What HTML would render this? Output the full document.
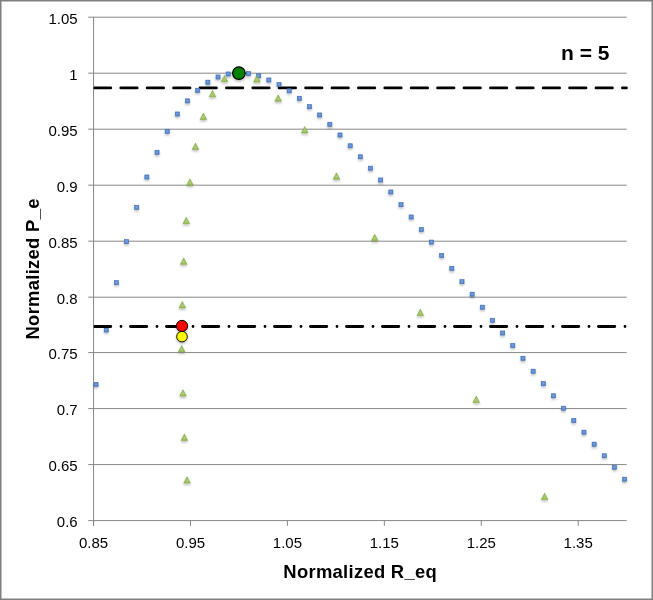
<!DOCTYPE html>
<html><head><meta charset="utf-8"><style>
html,body{margin:0;padding:0;background:#fff;}
svg{display:block;will-change:transform;}
text{font-family:"Liberation Sans",sans-serif;fill:#000;}
</style></head><body>
<svg width="653" height="600" viewBox="0 0 653 600">
<defs>
<filter id="sh" x="-100%" y="-100%" width="300%" height="300%">
<feDropShadow dx="0" dy="1.6" stdDeviation="0.9" flood-color="#000" flood-opacity="0.28"/>
</filter>
<radialGradient id="gb" cx="50%" cy="45%" r="60%"><stop offset="0" stop-color="#7fa6e2"/><stop offset="1" stop-color="#4b7cc4"/></radialGradient>
<radialGradient id="gg" cx="50%" cy="60%" r="60%"><stop offset="0" stop-color="#b0d07a"/><stop offset="1" stop-color="#8fb24c"/></radialGradient>
<clipPath id="pa"><rect x="93.57" y="0" width="534.115" height="521.6"/></clipPath>
</defs>
<rect x="0" y="0" width="653" height="600" fill="#fff"/>
<g stroke="#878787" stroke-width="1" shape-rendering="auto"><line x1="88.2" y1="520.60" x2="626.68" y2="520.60"/><line x1="88.2" y1="464.60" x2="626.68" y2="464.60"/><line x1="88.2" y1="408.60" x2="626.68" y2="408.60"/><line x1="88.2" y1="352.60" x2="626.68" y2="352.60"/><line x1="88.2" y1="297.20" x2="626.68" y2="297.20"/><line x1="88.2" y1="241.20" x2="626.68" y2="241.20"/><line x1="88.2" y1="185.20" x2="626.68" y2="185.20"/><line x1="88.2" y1="129.20" x2="626.68" y2="129.20"/><line x1="88.2" y1="73.20" x2="626.68" y2="73.20"/><line x1="88.2" y1="17.20" x2="626.68" y2="17.20"/><line x1="93.57" y1="520.60" x2="93.57" y2="525.8"/><line x1="190.50" y1="520.60" x2="190.50" y2="525.8"/><line x1="287.43" y1="520.60" x2="287.43" y2="525.8"/><line x1="384.36" y1="520.60" x2="384.36" y2="525.8"/><line x1="481.29" y1="520.60" x2="481.29" y2="525.8"/><line x1="578.22" y1="520.60" x2="578.22" y2="525.8"/><line x1="93.57" y1="17.14" x2="93.57" y2="525.8"/></g>
<text x="77.7" y="527.20" text-anchor="end" font-size="15">0.6</text><text x="77.7" y="471.20" text-anchor="end" font-size="15">0.65</text><text x="77.7" y="415.20" text-anchor="end" font-size="15">0.7</text><text x="77.7" y="359.20" text-anchor="end" font-size="15">0.75</text><text x="77.7" y="303.80" text-anchor="end" font-size="15">0.8</text><text x="77.7" y="247.80" text-anchor="end" font-size="15">0.85</text><text x="77.7" y="191.80" text-anchor="end" font-size="15">0.9</text><text x="77.7" y="135.80" text-anchor="end" font-size="15">0.95</text><text x="77.7" y="79.80" text-anchor="end" font-size="15">1</text><text x="77.7" y="23.80" text-anchor="end" font-size="15">1.05</text><text x="93.57" y="548.4" text-anchor="middle" font-size="15">0.85</text><text x="190.50" y="548.4" text-anchor="middle" font-size="15">0.95</text><text x="287.43" y="548.4" text-anchor="middle" font-size="15">1.05</text><text x="384.36" y="548.4" text-anchor="middle" font-size="15">1.15</text><text x="481.29" y="548.4" text-anchor="middle" font-size="15">1.25</text><text x="578.22" y="548.4" text-anchor="middle" font-size="15">1.35</text>
<g clip-path="url(#pa)" stroke="#000" stroke-width="2.8" stroke-linecap="round" fill="none"><line x1="94.4" y1="87.95" x2="626.68" y2="87.95" stroke-dasharray="16.4 10.0"/></g>
<g filter="url(#sh)" fill="url(#gb)" stroke="#3f6fb5" stroke-width="0.6"><rect x="94.00" y="382.35" width="4.1" height="4.1"/><rect x="104.17" y="327.95" width="4.1" height="4.1"/><rect x="114.33" y="280.65" width="4.1" height="4.1"/><rect x="124.49" y="239.65" width="4.1" height="4.1"/><rect x="134.66" y="205.25" width="4.1" height="4.1"/><rect x="144.82" y="174.95" width="4.1" height="4.1"/><rect x="154.99" y="150.25" width="4.1" height="4.1"/><rect x="165.15" y="129.25" width="4.1" height="4.1"/><rect x="175.32" y="111.95" width="4.1" height="4.1"/><rect x="185.48" y="98.85" width="4.1" height="4.1"/><rect x="195.65" y="88.25" width="4.1" height="4.1"/><rect x="205.81" y="80.15" width="4.1" height="4.1"/><rect x="215.98" y="74.95" width="4.1" height="4.1"/><rect x="226.14" y="71.95" width="4.1" height="4.1"/><rect x="236.31" y="71.05" width="4.1" height="4.1"/><rect x="246.47" y="71.55" width="4.1" height="4.1"/><rect x="256.64" y="73.75" width="4.1" height="4.1"/><rect x="266.80" y="77.95" width="4.1" height="4.1"/><rect x="276.97" y="82.55" width="4.1" height="4.1"/><rect x="287.13" y="88.75" width="4.1" height="4.1"/><rect x="297.30" y="96.25" width="4.1" height="4.1"/><rect x="307.46" y="104.65" width="4.1" height="4.1"/><rect x="317.63" y="112.95" width="4.1" height="4.1"/><rect x="327.79" y="122.25" width="4.1" height="4.1"/><rect x="337.96" y="132.95" width="4.1" height="4.1"/><rect x="348.12" y="143.75" width="4.1" height="4.1"/><rect x="358.29" y="154.75" width="4.1" height="4.1"/><rect x="368.45" y="166.15" width="4.1" height="4.1"/><rect x="378.62" y="177.95" width="4.1" height="4.1"/><rect x="388.78" y="189.95" width="4.1" height="4.1"/><rect x="398.95" y="202.65" width="4.1" height="4.1"/><rect x="409.11" y="214.95" width="4.1" height="4.1"/><rect x="419.28" y="227.45" width="4.1" height="4.1"/><rect x="429.44" y="240.05" width="4.1" height="4.1"/><rect x="439.61" y="253.45" width="4.1" height="4.1"/><rect x="449.77" y="266.25" width="4.1" height="4.1"/><rect x="459.94" y="279.65" width="4.1" height="4.1"/><rect x="470.10" y="292.15" width="4.1" height="4.1"/><rect x="480.27" y="305.15" width="4.1" height="4.1"/><rect x="490.43" y="318.25" width="4.1" height="4.1"/><rect x="500.60" y="330.95" width="4.1" height="4.1"/><rect x="510.76" y="343.45" width="4.1" height="4.1"/><rect x="520.93" y="356.25" width="4.1" height="4.1"/><rect x="531.10" y="369.15" width="4.1" height="4.1"/><rect x="541.26" y="381.65" width="4.1" height="4.1"/><rect x="551.42" y="393.75" width="4.1" height="4.1"/><rect x="561.59" y="406.15" width="4.1" height="4.1"/><rect x="571.75" y="418.45" width="4.1" height="4.1"/><rect x="581.92" y="430.15" width="4.1" height="4.1"/><rect x="592.09" y="442.15" width="4.1" height="4.1"/><rect x="602.25" y="453.75" width="4.1" height="4.1"/><rect x="612.41" y="465.15" width="4.1" height="4.1"/><rect x="622.58" y="477.15" width="4.1" height="4.1"/></g>
<g filter="url(#sh)" fill="url(#gg)" stroke="#84a844" stroke-width="0.6" stroke-linejoin="round"><path d="M187.10,476.70 L190.40,483.10 L183.80,483.10 Z"/><path d="M184.40,434.00 L187.70,440.40 L181.10,440.40 Z"/><path d="M183.00,389.70 L186.30,396.10 L179.70,396.10 Z"/><path d="M181.70,345.50 L185.00,351.90 L178.40,351.90 Z"/><path d="M182.30,301.50 L185.60,307.90 L179.00,307.90 Z"/><path d="M183.70,257.90 L187.00,264.30 L180.40,264.30 Z"/><path d="M186.30,217.30 L189.60,223.70 L183.00,223.70 Z"/><path d="M190.00,178.80 L193.30,185.20 L186.70,185.20 Z"/><path d="M195.50,143.10 L198.80,149.50 L192.20,149.50 Z"/><path d="M203.40,113.10 L206.70,119.50 L200.10,119.50 Z"/><path d="M212.50,90.40 L215.80,96.80 L209.20,96.80 Z"/><path d="M224.50,75.30 L227.80,81.70 L221.20,81.70 Z"/><path d="M256.90,75.70 L260.20,82.10 L253.60,82.10 Z"/><path d="M278.20,94.80 L281.50,101.20 L274.90,101.20 Z"/><path d="M304.70,126.50 L308.00,132.90 L301.40,132.90 Z"/><path d="M336.50,172.80 L339.80,179.20 L333.20,179.20 Z"/><path d="M374.70,234.30 L378.00,240.70 L371.40,240.70 Z"/><path d="M420.30,309.20 L423.60,315.60 L417.00,315.60 Z"/><path d="M476.30,396.20 L479.60,402.60 L473.00,402.60 Z"/><path d="M544.60,493.20 L547.90,499.60 L541.30,499.60 Z"/></g>
<g clip-path="url(#pa)" stroke="#000" stroke-width="2.8" stroke-linecap="round" fill="none"><line x1="94.4" y1="326.5" x2="626.68" y2="326.5" stroke-dasharray="16.4 10.2 0 9.4"/></g>
<g filter="url(#sh)" stroke="#000" stroke-width="1.2"><circle cx="238.9" cy="73.1" r="6.3" fill="#008000"/><circle cx="182.0" cy="326.0" r="5.65" fill="#ff0000" stroke-width="0.95"/><circle cx="182.0" cy="336.6" r="5.3" fill="#ffff00" stroke-width="0.95"/></g>
<text x="585.3" y="60.3" text-anchor="middle" font-size="21" font-weight="bold">n = 5</text>
<text x="360.2" y="577.8" text-anchor="middle" font-size="18.4" font-weight="bold" letter-spacing="0.3">Normalized R_eq</text>
<text transform="translate(39.2,268.9) rotate(-90)" x="0" y="0" text-anchor="middle" font-size="18.4" font-weight="bold" letter-spacing="0.3">Normalized P_e</text>
<rect x="0.75" y="0.75" width="651.5" height="598.5" fill="none" stroke="#7f7f7f" stroke-width="1.5"/>
</svg></body></html>
